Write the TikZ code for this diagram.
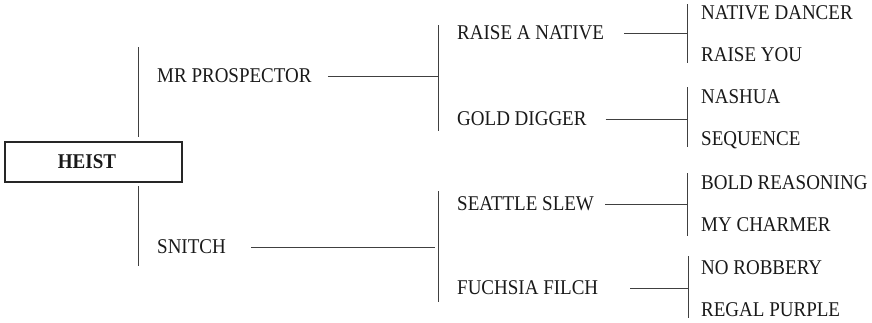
\documentclass[tikz,border=0pt]{standalone}
\usepackage{fontspec}
\setmainfont[FakeStretch=0.905]{Liberation Serif}
\usetikzlibrary{positioning}

\begin{document}
\begin{tikzpicture}[x=1pt, y=-1pt,
    horse/.style={anchor=west, inner sep=0pt, text height=13.8pt, text depth=0pt,
        font=\fontsize{21}{23}\selectfont, text=black!90},
    link/.style={draw=black!75, line width=1pt}]
    \useasboundingbox (0,0) rectangle (872,322);
    % Definitions
    \def \colA{157}
    \def \colB{457}
    \def \colC{701}
    %%%
    %%% Root
    %%%
    \node[draw=black!85, line width=2pt, minimum width=177pt, minimum height=40pt, inner sep=0pt,
        text=black!90, font=\fontsize{21}{23}\selectfont\bfseries] (heist) at (93.5,162) {\hspace*{-13pt}HEIST};
    % Sires and dams
    \node[horse] (mrp)    at (\colA,76)  {MR PROSPECTOR};
    \node[horse] (snitch) at (\colA,247) {SNITCH};
    \node[horse] (ran)    at (\colB,33)  {RAISE A NATIVE};
    \node[horse] (gold)   at (\colB,119) {GOLD DIGGER};
    \node[horse] (slew)   at (\colB,204) {SEATTLE SLEW};
    \node[horse] (filch)  at (\colB,288) {FUCHSIA FILCH};
    % Third generation
    \foreach \name/\y/\txt in {dancer/13/NATIVE DANCER, you/55/RAISE YOU,
        nashua/97/NASHUA, sequence/139/SEQUENCE,
        bold/183/BOLD REASONING, charmer/225/MY CHARMER,
        robbery/268/NO ROBBERY, regal/310/REGAL PURPLE}
    {
        \node[horse] (\name) at (\colC,\y) {\txt};
    }
    %%%
    %%% Brackets
    %%%
    \foreach \name/\x/\top/\bot in {up/138/47/137, down/138/186/266,
        mrpkids/438/25/131, snitchkids/438/191/302,
        rankids/687/4/63, goldkids/687/87/147,
        slewkids/687/173/236, filchkids/688/256/318}
    {
        \coordinate (\name-t) at (\x,\top);
        \coordinate (\name-b) at (\x,\bot);
        \draw[link] (\name-t) -- (\name-b);
    }
    % Links to the brackets
    \draw[link] ([xshift=16pt]mrp.east)    -- (mrp -| mrpkids-t);
    \draw[link] ([xshift=25pt]snitch.east) -- ([xshift=-3pt]snitch -| snitchkids-t);
    \draw[link] ([xshift=20pt]ran.east)    -- (ran -| rankids-t);
    \draw[link] ([xshift=19pt]gold.east)   -- (gold -| goldkids-t);
    \draw[link] ([xshift=11pt]slew.east)   -- (slew -| slewkids-t);
    \draw[link] ([xshift=32pt]filch.east)  -- (filch -| filchkids-t);
\end{tikzpicture}
\end{document}
